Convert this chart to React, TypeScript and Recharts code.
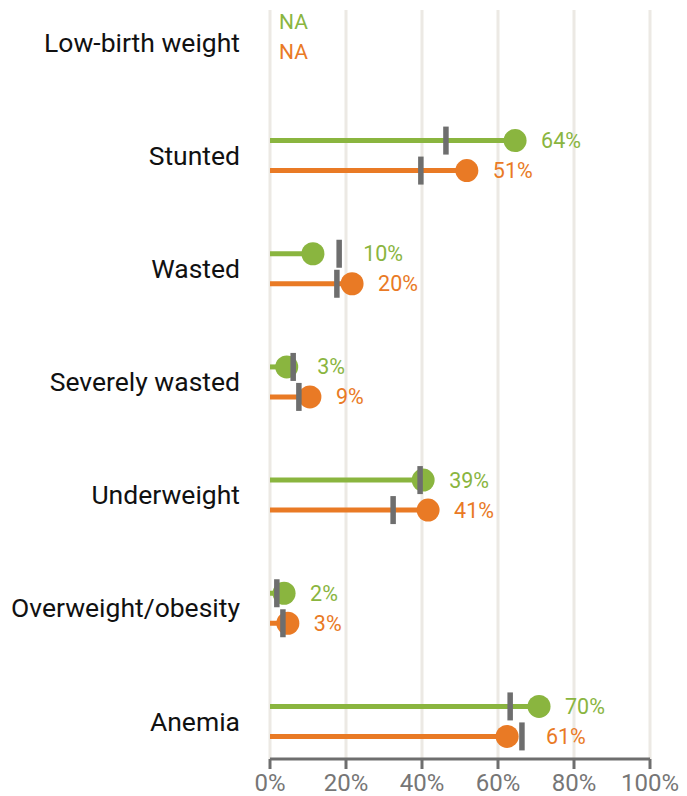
import React from "react";
import { ComposedChart, Bar, XAxis, YAxis, CartesianGrid } from "recharts";

const categories = [
  "Low-birth weight",
  "Stunted",
  "Wasted",
  "Severely wasted",
  "Underweight",
  "Overweight/obesity",
  "Anemia",
];
// dot positions (%), null = not available
const greenValues = [null, 64.5, 11.3, 4.4, 40.3, 3.7, 70.8];
const orangeValues = [null, 51.8, 21.6, 10.5, 41.6, 4.7, 62.4];
// grey comparison markers (%)
const greenMarkers = [null, 46.3, 18.2, 6.1, 39.5, 1.8, 63.2];
const orangeMarkers = [null, 39.7, 17.6, 7.6, 32.4, 3.4, 66.3];
const greenLabels = ["NA", "64%", "10%", "3%", "39%", "2%", "70%"];
const orangeLabels = ["NA", "51%", "20%", "9%", "41%", "3%", "61%"];
const xTicks = [0, 20, 40, 60, 80, 100];

const GREEN = "#8ab53f";
const ORANGE = "#e97a25";
const GREY = "#6e6e6e";

const rows = categories.map((name, i) => ({
  name,
  green: greenValues[i] ?? 0,
  orange: orangeValues[i] ?? 0,
  greenNA: greenValues[i] == null,
  orangeNA: orangeValues[i] == null,
  greenMark: greenMarkers[i],
  orangeMark: orangeMarkers[i],
  greenLabel: greenLabels[i],
  orangeLabel: orangeLabels[i],
}));

function lollipop(color: string, key: "green" | "orange") {
  return (props: any) => {
    const { x, y, width, height, payload } = props;
    const cy = y + height / 2;
    const value = payload[key];
    if (payload[key + "NA"]) {
      return (
        <text x={x + 9} y={cy - 5} fill={color} fontSize={21} dominantBaseline="central">
          {payload[key + "Label"]}
        </text>
      );
    }
    const pxPer = width / value;
    const dotX = x + width;
    const markX = x + payload[key + "Mark"] * pxPer;
    const labelX = Math.max(dotX + 26, markX + 24);
    return (
      <g>
        <line x1={x} x2={dotX} y1={cy} y2={cy} stroke={color} strokeWidth={5} />
        <circle cx={dotX} cy={cy} r={11.5} fill={color} />
        <rect x={markX - 2.75} y={cy - 14} width={5.5} height={28} fill={GREY} />
        <text x={labelX} y={cy} fill={color} fontSize={21.5} dominantBaseline="central">
          {payload[key + "Label"]}
        </text>
      </g>
    );
  };
}

const CategoryTick = ({ y, payload }: any) => (
  <text x={240} y={y} textAnchor="end" dominantBaseline="central" fontSize={26.5} fill="#111">
    {payload.value}
  </text>
);

export default function App() {
  return (
    <div style={{ position: "absolute", left: 0, top: 0, fontFamily: "Roboto" }}>
      <ComposedChart
        width={687}
        height={796}
        data={rows}
        layout="vertical"
        barGap={0}
        margin={{ top: 10, right: 37, left: 0, bottom: 0 }}
      >
        <CartesianGrid horizontal={false} stroke="#ece9e4" strokeWidth={3} />
        <XAxis
          type="number"
          domain={[0, 100]}
          ticks={xTicks}
          tickFormatter={(v) => `${v}%`}
          axisLine={{ stroke: GREY, strokeWidth: 3 }}
          tickLine={{ stroke: GREY, strokeWidth: 3 }}
          tickSize={10}
          tickMargin={5}
          tick={{ fontSize: 24, fill: "#767676" }}
          height={37}
        />
        <YAxis
          type="category"
          dataKey="name"
          scale="point"
          padding={{ top: 32, bottom: 38 }}
          width={270}
          axisLine={false}
          tickLine={false}
          tick={<CategoryTick />}
          interval={0}
        />
        <Bar dataKey="green" barSize={30} isAnimationActive={false} shape={lollipop(GREEN, "green")} />
        <Bar dataKey="orange" barSize={30} isAnimationActive={false} shape={lollipop(ORANGE, "orange")} />
      </ComposedChart>
    </div>
  );
}
